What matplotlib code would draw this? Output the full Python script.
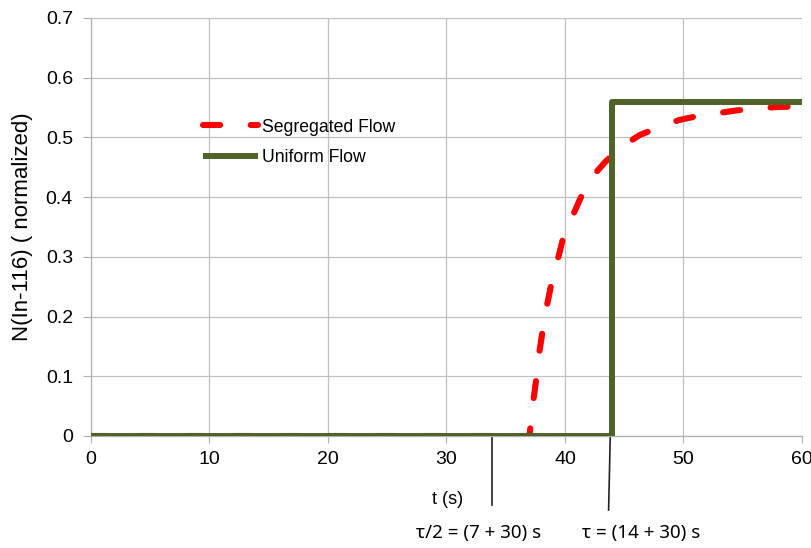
import matplotlib
matplotlib.use("Agg")
import matplotlib.pyplot as plt

plt.rcParams['font.family'] = ['Liberation Sans', 'DejaVu Sans']

# segregated flow response (red dashed)
seg_t = [0, 10, 20, 30, 37.0, 37.3, 37.6, 37.8, 38.1, 38.4, 38.8, 39.3, 39.8,
         40.5, 41.3, 42.2, 43.4, 44.6, 46.3, 47.7, 49.6, 51.0, 53.0, 54.4,
         56.4, 58.0, 60]
seg_n = [0, 0, 0, 0, 0, 0.055, 0.099, 0.136, 0.175, 0.211, 0.25, 0.289, 0.328,
         0.362, 0.398, 0.432, 0.459, 0.482, 0.504, 0.515, 0.529, 0.535, 0.541,
         0.545, 0.549, 0.551, 0.552]

# uniform (plug) flow response: step at t = 44 s
uni_t = [0, 44, 44, 60]
uni_n = [0, 0, 0.56, 0.56]

x_ticks = [0, 10, 20, 30, 40, 50, 60]
y_ticks = [0, 0.1, 0.2, 0.3, 0.4, 0.5, 0.6, 0.7]
y_tick_labels = ['0', '0.1', '0.2', '0.3', '0.4', '0.5', '0.6', '0.7']

fig = plt.figure(figsize=(8.12, 5.48), dpi=100)
ax = fig.add_axes([91 / 812, 112 / 548, 711 / 812, 418 / 548])

ax.plot(seg_t, seg_n, color='#ff0000', lw=4.4, dashes=(2.8, 5),
        dash_capstyle='round', label='Segregated Flow', zorder=3)
ax.plot(uni_t, uni_n, color='#4f6228', lw=4.3, solid_joinstyle='round',
        solid_capstyle='butt', label='Uniform Flow', zorder=4)

ax.set_xlim(0, 60)
ax.set_ylim(0, 0.7)
ax.set_xticks(x_ticks)
ax.set_yticks(y_ticks)
ax.set_yticklabels(y_tick_labels)
ax.grid(True, color='#c0c0c0', lw=0.9)
ax.set_axisbelow(True)
for s in ['top', 'right']:
    ax.spines[s].set_visible(False)
for s in ['left', 'bottom']:
    ax.spines[s].set_color('#b0b0b0')
    ax.spines[s].set_linewidth(0.9)
ax.tick_params(axis='x', length=5, color='#b0b0b0', pad=6, labelsize=14)
ax.tick_params(axis='y', length=6, color='#b0b0b0', pad=7, labelsize=14)

ax.set_ylabel('N(In-116) ( normalized)', fontsize=16, labelpad=9)

ax.legend(loc='center left', bbox_to_anchor=(196 / 812, 1 - 142.5 / 548),
          bbox_transform=fig.transFigure, frameon=False, fontsize=12.7,
          handlelength=3.1, handletextpad=0.25, labelspacing=0.78,
          borderaxespad=0)

# marker lines below the time axis
ax.plot([33.85, 33.85], [0, -0.115], color='#222222', lw=1.2, clip_on=False, zorder=2)
ax.plot([43.82, 43.68], [0, -0.124], color='#222222', lw=1.2, clip_on=False, zorder=2)

fig.text(448 / 812, 1 - 500 / 548, 't (s)', fontsize=13, ha='center', va='center')
fig.text(479 / 812, 1 - 533 / 548, 'τ/2 = (7 + 30) s', fontsize=13.5,
         family=['Noto Sans', 'DejaVu Sans'], ha='center', va='center')
fig.text(641 / 812, 1 - 533 / 548, 'τ = (14 + 30) s', fontsize=13.5,
         family=['Noto Sans', 'DejaVu Sans'], ha='center', va='center')

fig.savefig('out.png', dpi=100)
